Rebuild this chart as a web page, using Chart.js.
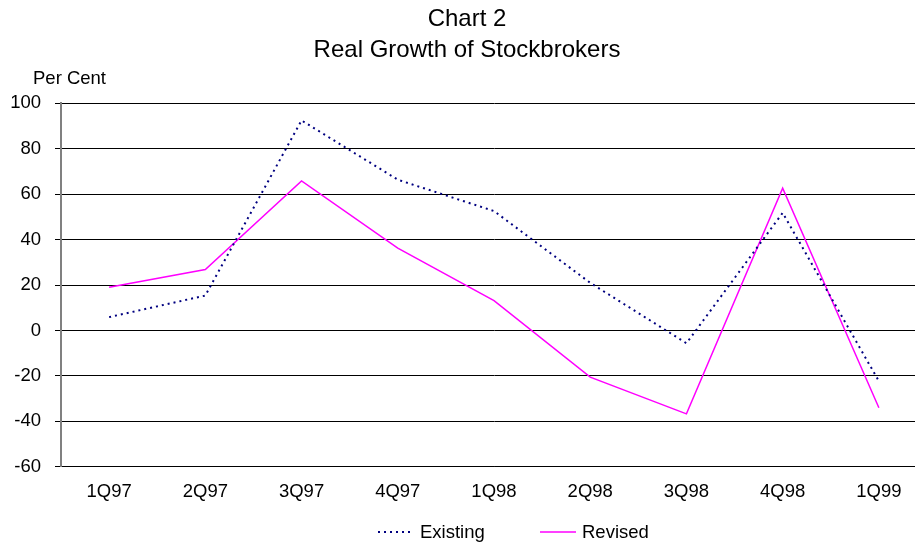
<!DOCTYPE html>
<html>
<head>
<meta charset="utf-8">
<script src="https://cdn.jsdelivr.net/npm/chart.js@4"></script>
<style>
  html, body { margin: 0; padding: 0; background: #fff; overflow: hidden; }
  #wrap { width: 934px; height: 544px; }
</style>
</head>
<body>
<div id="wrap"><canvas id="grafico" width="934" height="544"></canvas></div>
<script>
// dados do grafico
const quarters = ['1Q97', '2Q97', '3Q97', '4Q97', '1Q98', '2Q98', '3Q98', '4Q98', '1Q99'];
const existing = [5.9, 15.4, 92.5, 66.4, 52.6, 21, -5.6, 51.8, -22.3];
const revised = [19.1, 26.9, 65.9, 36.3, 13.2, -20.5, -36.7, 62.7, -34];
const yTicks = [-60, -40, -20, 0, 20, 40, 60, 80, 100];

const fonte = '"Liberation Sans", Arial, sans-serif';

// texto "Per Cent" e legenda desenhados a mao
const extras = {
  id: 'extras',
  afterDraw(chart) {
    const ctx = chart.ctx;
    const area = chart.chartArea;
    ctx.save();
    ctx.font = '18.5px ' + fonte;
    ctx.fillStyle = '#000';
    ctx.textBaseline = 'middle';
    ctx.textAlign = 'left';
    ctx.fillText('Per Cent', area.left - 28, area.top - 24);

    // legenda
    const y = 532;
    let x = area.left + 317;
    chart.data.datasets.forEach((ds) => {
      ctx.beginPath();
      ctx.strokeStyle = ds.borderColor;
      ctx.lineWidth = ds.borderWidth;
      ctx.setLineDash(ds.borderDash || []);
      ctx.moveTo(x, y);
      ctx.lineTo(x + 36, y);
      ctx.stroke();
      ctx.setLineDash([]);
      ctx.fillText(ds.label, x + 42, y + 1);
      x += 162;
    });
    ctx.restore();
  }
};

const ctx = document.getElementById('grafico').getContext('2d');
new Chart(ctx, {
  type: 'line',
  data: {
    labels: quarters,
    datasets: [
      {
        label: 'Existing',
        data: existing,
        borderColor: '#000080',
        borderWidth: 2,
        borderDash: [2, 4],
        pointRadius: 0,
        tension: 0,
        fill: false
      },
      {
        label: 'Revised',
        data: revised,
        borderColor: '#ff00ff',
        borderWidth: 1.5,
        pointRadius: 0,
        tension: 0,
        fill: false
      }
    ]
  },
  options: {
    responsive: false,
    animation: false,
    layout: { padding: { left: 7, right: 7, top: 0, bottom: 27 } },
    plugins: {
      legend: { display: false },
      tooltip: { enabled: false },
      title: {
        display: true,
        text: ['Chart 2', 'Real Growth of Stockbrokers'],
        color: '#000',
        font: { family: fonte, size: 24, weight: 'normal', lineHeight: 1.3 },
        padding: { top: 4, bottom: 37 }
      }
    },
    scales: {
      x: {
        offset: true,
        grid: { display: false, drawTicks: false },
        border: { display: true, color: '#000', width: 1 },
        ticks: { color: '#000', padding: 14, font: { family: fonte, size: 18.5 }, maxRotation: 0 }
      },
      y: {
        min: -60,
        max: 100,
        afterBuildTicks: (axis) => { axis.ticks = yTicks.map(v => ({ value: v })); },
        afterFit: (axis) => { axis.width = 54; },
        grid: { color: '#000', lineWidth: 1, drawTicks: true, tickLength: 6 },
        border: { display: true, color: '#808080', width: 2 },
        ticks: { color: '#000', padding: 14, font: { family: fonte, size: 18.5 } }
      }
    }
  },
  plugins: [extras]
});
</script>
</body>
</html>
